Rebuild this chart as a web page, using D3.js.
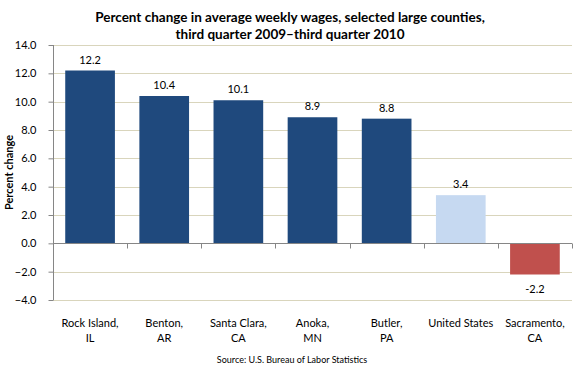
<!DOCTYPE html>
<html>
<head>
<meta charset="utf-8">
<script src="https://cdn.jsdelivr.net/npm/d3@7"></script>
<style>
  body { margin: 0; background: #fff; }
  svg text { font-family: Lato, "Open Sans", sans-serif; fill: #000; }
</style>
</head>
<body>
<svg width="580" height="371"></svg>
<script>
var categories = [["Rock Island,", "IL"], ["Benton,", "AR"], ["Santa Clara,", "CA"], ["Anoka,", "MN"], ["Butler,", "PA"], ["United States"], ["Sacramento,", "CA"]];
var values = [12.2, 10.4, 10.1, 8.9, 8.8, 3.4, -2.2];
var barColors = ["#1f497d", "#1f497d", "#1f497d", "#1f497d", "#1f497d", "#c6d9f1", "#c0504d"];
var yTicks = [-4, -2, 0, 2, 4, 6, 8, 10, 12, 14];

var svg = d3.select("svg");
var margin = {left: 53, right: 8, top: 45, bottom: 71};
var width = 580 - margin.left - margin.right,
    height = 371 - margin.top - margin.bottom;

var x = d3.scaleBand().domain(d3.range(values.length)).range([0, width]).paddingInner(0.33).paddingOuter(0.165);
var y = d3.scaleLinear().domain([-4, 14]).range([height, 0]);

var g = svg.append("g").attr("transform", "translate(" + margin.left + "," + margin.top + ")");

// gridlines
g.append("g").selectAll("line")
  .data(yTicks.filter(function(d) { return d !== 0; }))
  .enter().append("line")
  .attr("x1", 0).attr("x2", width)
  .attr("y1", function(d) { return Math.round(y(d)) + 0.5; })
  .attr("y2", function(d) { return Math.round(y(d)) + 0.5; })
  .attr("stroke", "#d9d5bc").attr("stroke-width", 1);

// bars
g.append("g").selectAll("rect")
  .data(values)
  .enter().append("rect")
  .attr("x", function(d, i) { return x(i); })
  .attr("width", x.bandwidth())
  .attr("y", function(d) { return y(Math.max(0, d)); })
  .attr("height", function(d) { return Math.abs(y(d) - y(0)); })
  .attr("fill", function(d, i) { return barColors[i]; });

// value labels
g.append("g").selectAll("text")
  .data(values)
  .enter().append("text")
  .attr("x", function(d, i) { return x(i) + x.bandwidth() / 2; })
  .attr("y", function(d) { return d >= 0 ? y(d) - 7 : y(d) + 18; })
  .attr("text-anchor", "middle")
  .style("font-size", "11px")
  .text(function(d) { return d.toFixed(1); });

// y axis
var yAxis = d3.axisLeft(y).tickValues(yTicks).tickSize(5).tickFormat(d3.format(".1f"));
var ya = g.append("g").attr("transform", "translate(0.5,0)").call(yAxis);
ya.select(".domain").attr("stroke", "#868686").attr("d", "M0," + y(14) + "V" + y(-4));
ya.selectAll(".tick line").attr("stroke", "#868686");
ya.selectAll(".tick text").style("font-size", "11px").style("font-family", "Lato, 'Open Sans', sans-serif").attr("fill", "#000").attr("x", -17);

// zero line with category ticks
var zy = Math.round(y(0)) + 0.5;
g.append("line").attr("x1", 0).attr("x2", width).attr("y1", zy).attr("y2", zy).attr("stroke", "#868686");
g.append("g").selectAll("line")
  .data(d3.range(values.length + 1))
  .enter().append("line")
  .attr("x1", function(i) { return Math.round(i * x.step()) + 0.5; })
  .attr("x2", function(i) { return Math.round(i * x.step()) + 0.5; })
  .attr("y1", zy).attr("y2", zy + 5)
  .attr("stroke", "#868686");

// category labels
var cat = g.append("g").selectAll("text")
  .data(categories)
  .enter().append("text")
  .attr("x", function(d, i) { return x(i) + x.bandwidth() / 2; })
  .attr("y", 327 - margin.top)
  .attr("text-anchor", "middle")
  .style("font-size", "11px");
cat.selectAll("tspan")
  .data(function(d) { return d; })
  .enter().append("tspan")
  .attr("x", function() { return d3.select(this.parentNode).attr("x"); })
  .attr("dy", function(d, i) { return i === 0 ? 0 : 15; })
  .text(function(d) { return d; });

// y axis title
svg.append("text")
  .attr("transform", "translate(13," + (margin.top + height / 2) + ") rotate(-90)")
  .attr("text-anchor", "middle")
  .style("font-size", "11px").style("font-weight", "bold")
  .text("Percent change");

// title
svg.append("text").attr("x", 290).attr("y", 22).attr("text-anchor", "middle")
  .style("font-size", "13.5px").style("font-weight", "bold")
  .text("Percent change in average weekly wages, selected large counties,");
svg.append("text").attr("x", 290).attr("y", 39).attr("text-anchor", "middle")
  .style("font-size", "13.5px").style("font-weight", "bold")
  .text("third quarter 2009\u2013third quarter 2010");

// source
svg.append("text").attr("x", 292).attr("y", 363).attr("text-anchor", "middle")
  .style("font-size", "9px")
  .text("Source: U.S. Bureau of Labor Statistics");
</script>
</body>
</html>
